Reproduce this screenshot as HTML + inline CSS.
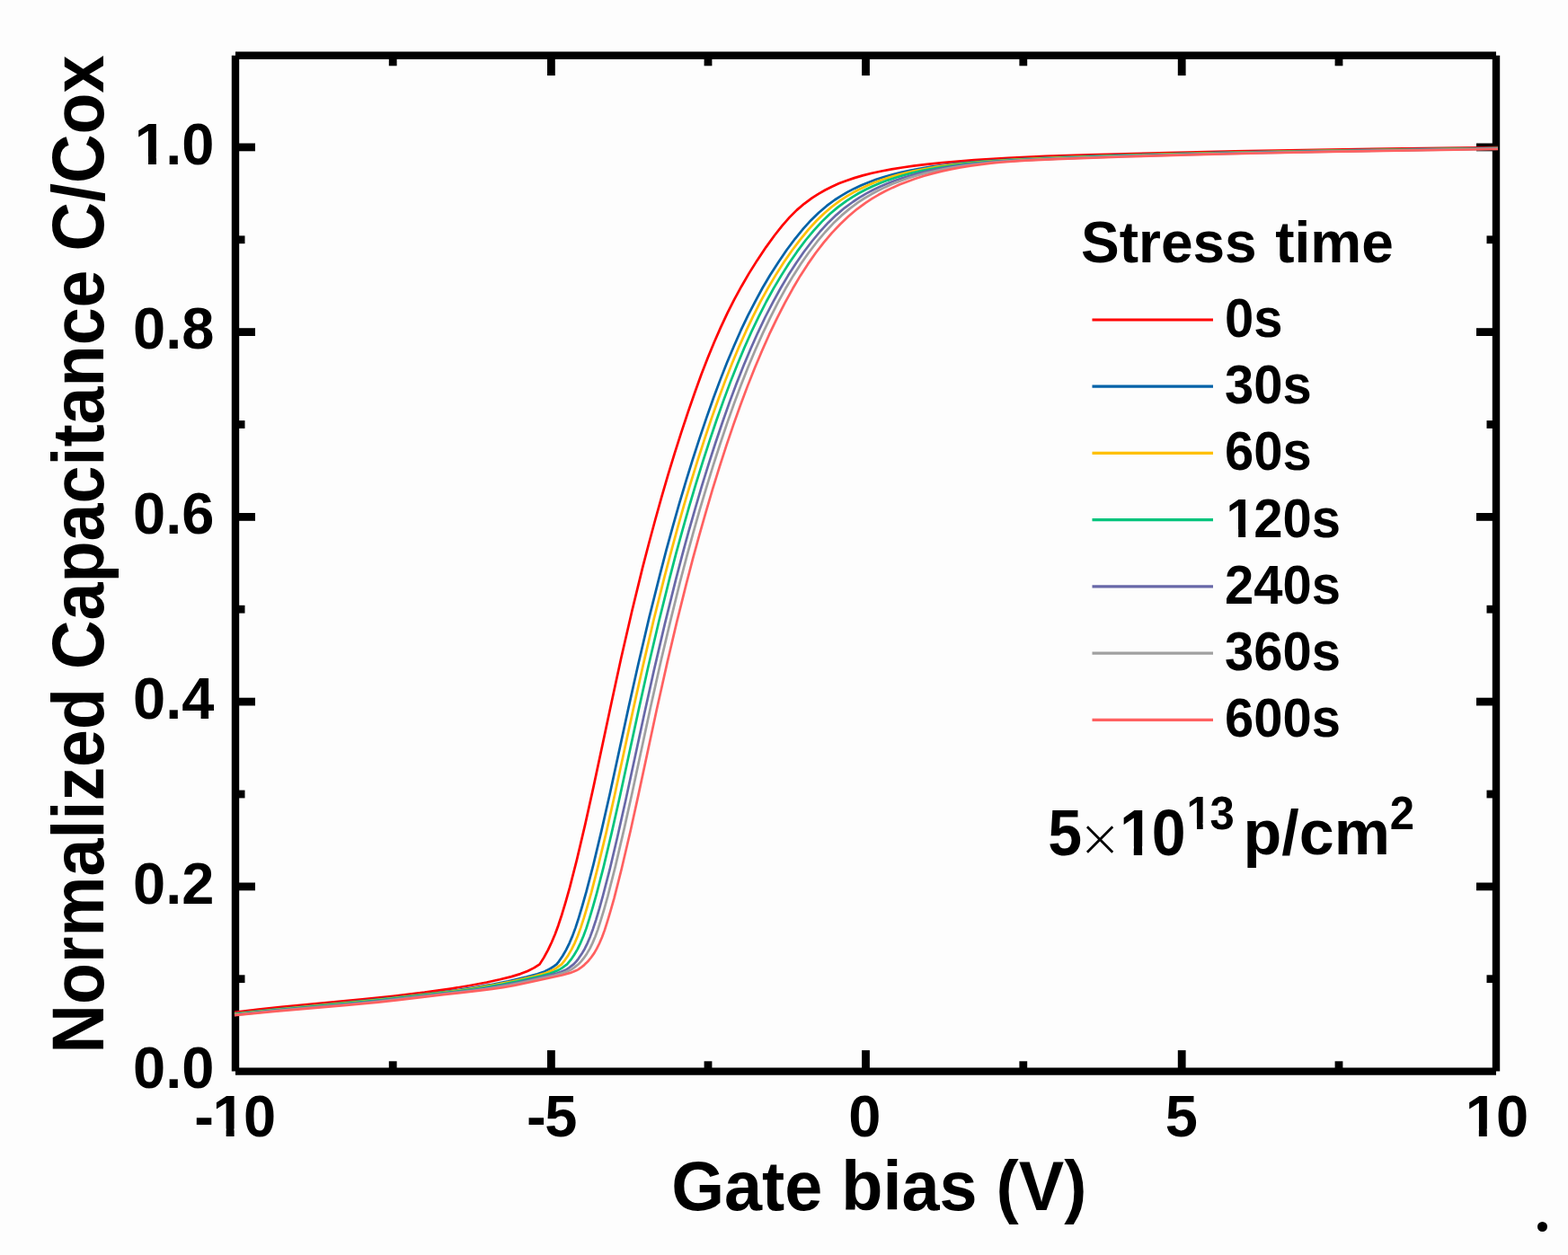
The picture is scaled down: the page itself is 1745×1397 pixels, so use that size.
<!DOCTYPE html>
<html lang="en"><head><meta charset="utf-8"><title>Normalized Capacitance vs Gate bias</title>
<style>
html,body{margin:0;padding:0;background:#fdfdfd;}
body{width:1745px;height:1397px;overflow:hidden;}
svg{display:block;}
</style></head><body>
<svg width="1745" height="1397" viewBox="0 0 1745 1397">
<rect x="0" y="0" width="1745" height="1397" fill="#fdfdfd"/>
<g stroke="#000" stroke-width="8.4" fill="none" stroke-linecap="butt">
<line x1="262.0" y1="61.8" x2="262.0" y2="1192.6"/>
<line x1="1665.0" y1="61.8" x2="1665.0" y2="1192.6"/>
<line x1="262.0" y1="61.8" x2="1665.0" y2="61.8"/>
<line x1="262.0" y1="1192.6" x2="1665.0" y2="1192.6"/>
</g>
<g stroke="#000" stroke-width="8.8" fill="none">
<line x1="613.4" y1="1192.6" x2="613.4" y2="1169.1"/>
<line x1="613.4" y1="61.8" x2="613.4" y2="84.1"/>
<line x1="963.5" y1="1192.6" x2="963.5" y2="1169.1"/>
<line x1="963.5" y1="61.8" x2="963.5" y2="84.1"/>
<line x1="1315.2" y1="1192.6" x2="1315.2" y2="1169.1"/>
<line x1="1315.2" y1="61.8" x2="1315.2" y2="84.1"/>
<line x1="437.2" y1="1192.6" x2="437.2" y2="1181.3"/>
<line x1="437.2" y1="61.8" x2="437.2" y2="73.3"/>
<line x1="788.0" y1="1192.6" x2="788.0" y2="1181.3"/>
<line x1="788.0" y1="61.8" x2="788.0" y2="73.3"/>
<line x1="1138.8" y1="1192.6" x2="1138.8" y2="1181.3"/>
<line x1="1138.8" y1="61.8" x2="1138.8" y2="73.3"/>
<line x1="1490.0" y1="1192.6" x2="1490.0" y2="1181.3"/>
<line x1="1490.0" y1="61.8" x2="1490.0" y2="73.3"/>
<line x1="262.0" y1="986.9" x2="284.0" y2="986.9"/>
<line x1="1665.0" y1="986.9" x2="1643.0" y2="986.9"/>
<line x1="262.0" y1="781.1" x2="284.0" y2="781.1"/>
<line x1="1665.0" y1="781.1" x2="1643.0" y2="781.1"/>
<line x1="262.0" y1="575.4" x2="284.0" y2="575.4"/>
<line x1="1665.0" y1="575.4" x2="1643.0" y2="575.4"/>
<line x1="262.0" y1="369.6" x2="284.0" y2="369.6"/>
<line x1="1665.0" y1="369.6" x2="1643.0" y2="369.6"/>
<line x1="262.0" y1="163.9" x2="284.0" y2="163.9"/>
<line x1="1665.0" y1="163.9" x2="1643.0" y2="163.9"/>
<line x1="262.0" y1="1089.7" x2="272.5" y2="1089.7"/>
<line x1="1665.0" y1="1089.7" x2="1654.5" y2="1089.7"/>
<line x1="262.0" y1="884.0" x2="272.5" y2="884.0"/>
<line x1="1665.0" y1="884.0" x2="1654.5" y2="884.0"/>
<line x1="262.0" y1="678.2" x2="272.5" y2="678.2"/>
<line x1="1665.0" y1="678.2" x2="1654.5" y2="678.2"/>
<line x1="262.0" y1="472.5" x2="272.5" y2="472.5"/>
<line x1="1665.0" y1="472.5" x2="1654.5" y2="472.5"/>
<line x1="262.0" y1="266.8" x2="272.5" y2="266.8"/>
<line x1="1665.0" y1="266.8" x2="1654.5" y2="266.8"/>
</g>
<g fill="none" stroke-width="2.7" stroke-linejoin="round" stroke-linecap="butt">
<path d="M261.0 1126.9 L287.7 1123.7 L313.4 1120.9 L403.3 1112.4 L437.7 1108.9 L472.5 1104.7 L503.2 1100.3 L523.1 1097.0 L541.7 1093.5 L556.4 1090.3 L569.2 1087.1 L579.1 1084.1 L587.1 1081.0 L594.3 1077.4 L600.6 1073.4 L605.3 1065.9 L609.8 1057.7 L613.9 1049.0 L617.8 1039.7 L621.3 1030.2 L625.0 1019.0 L629.5 1004.1 L634.0 988.2 L642.0 956.8 L651.3 917.4 L660.6 875.4 L680.9 780.2 L691.2 732.8 L703.3 680.2 L715.1 631.9 L722.1 605.0 L729.1 579.0 L736.1 553.8 L743.3 529.1 L750.7 504.9 L758.1 481.6 L765.8 458.4 L773.4 436.5 L780.7 416.3 L787.9 397.8 L794.9 380.7 L802.2 364.1 L809.7 348.1 L817.3 333.1 L825.2 318.7 L833.2 304.9 L842.6 289.9 L852.5 275.1 L862.0 262.0 L870.6 251.1 L878.7 241.9 L886.7 233.9 L895.0 226.8 L903.7 220.4 L910.8 215.8 L918.4 211.5 L925.9 207.7 L934.0 204.1 L942.3 201.0 L950.7 198.1 L960.0 195.4 L970.3 192.8 L981.0 190.5 L992.2 188.4 L1003.9 186.5 L1016.8 184.7 L1031.5 182.9 L1048.7 181.2 L1084.4 178.1 L1121.8 175.8 L1163.5 173.9 L1211.9 172.3 L1289.5 170.3 L1374.2 168.4 L1463.9 166.8 L1561.7 165.4 L1667.0 164.2" stroke="#ff0000"/>
<path d="M261.0 1128.2 L305.7 1123.5 L393.1 1115.2 L435.6 1110.8 L494.8 1104.0 L512.2 1101.7 L527.3 1099.4 L545.8 1096.2 L565.5 1092.2 L585.7 1087.6 L598.0 1084.3 L606.0 1081.4 L609.9 1079.5 L612.8 1078.0 L616.4 1075.7 L619.5 1073.4 L622.1 1070.1 L626.2 1064.0 L630.0 1057.3 L633.7 1049.8 L637.2 1041.6 L640.5 1032.6 L644.0 1021.8 L648.0 1008.5 L652.5 992.7 L660.4 962.3 L669.4 924.6 L678.8 883.2 L699.5 787.6 L710.1 740.2 L722.4 687.6 L734.5 639.3 L741.5 612.3 L748.8 585.9 L756.0 560.4 L763.4 535.7 L770.9 511.4 L778.6 487.7 L786.3 464.9 L793.9 443.3 L801.6 422.6 L809.2 403.3 L816.9 384.9 L824.5 367.7 L832.4 351.2 L840.6 335.3 L848.6 320.5 L857.0 306.3 L866.2 291.9 L875.3 278.5 L884.8 265.8 L893.9 254.7 L902.5 245.2 L911.2 236.7 L920.0 229.2 L929.0 222.5 L935.9 218.1 L943.0 213.9 L950.7 209.9 L958.5 206.3 L966.7 202.9 L975.0 199.8 L983.7 197.0 L993.2 194.4 L1003.2 191.9 L1013.7 189.6 L1024.7 187.5 L1036.1 185.7 L1048.7 184.0 L1062.2 182.4 L1091.5 179.6 L1123.7 177.5 L1175.4 175.1 L1227.0 173.3 L1290.3 171.5 L1368.6 169.6 L1452.6 168.0 L1667.0 164.8" stroke="#0062a8"/>
<path d="M261.0 1128.6 L304.1 1124.1 L388.5 1116.2 L430.9 1111.9 L501.1 1103.8 L518.6 1101.5 L533.9 1099.2 L551.4 1096.1 L570.7 1092.2 L594.5 1086.7 L604.9 1083.9 L608.9 1082.5 L613.0 1080.8 L616.6 1079.1 L619.4 1077.4 L625.0 1073.4 L628.5 1069.1 L632.3 1063.4 L636.1 1056.9 L639.7 1049.6 L643.0 1041.7 L646.3 1032.6 L649.8 1021.9 L653.7 1008.9 L658.0 993.9 L665.7 963.9 L674.7 926.6 L684.0 885.3 L704.6 790.1 L715.2 742.6 L727.5 690.0 L739.7 641.3 L746.8 614.3 L754.0 587.9 L761.2 562.4 L768.6 537.6 L776.2 513.1 L783.9 489.3 L791.6 466.4 L799.3 444.8 L807.0 424.1 L814.7 404.5 L822.4 386.1 L830.2 368.7 L838.2 351.9 L846.4 335.7 L854.7 320.6 L863.0 306.6 L872.1 292.3 L881.1 279.2 L890.6 266.6 L899.6 255.6 L908.4 246.0 L917.2 237.5 L925.9 230.0 L935.2 223.1 L942.1 218.7 L949.5 214.3 L956.9 210.5 L964.8 206.7 L972.9 203.3 L981.2 200.3 L990.1 197.3 L999.5 194.6 L1009.5 192.1 L1019.7 189.8 L1030.4 187.8 L1041.8 185.9 L1054.0 184.1 L1066.9 182.5 L1095.4 179.8 L1126.8 177.8 L1178.3 175.4 L1232.6 173.5 L1295.9 171.7 L1372.4 169.8 L1454.5 168.2 L1667.0 165.0" stroke="#ffc000"/>
<path d="M261.0 1129.0 L303.2 1124.6 L384.9 1117.1 L424.0 1113.2 L508.2 1103.6 L525.0 1101.4 L539.8 1099.2 L556.5 1096.2 L575.7 1092.3 L602.6 1086.2 L612.3 1083.5 L616.3 1082.1 L620.0 1080.5 L622.9 1079.1 L626.0 1077.1 L631.1 1073.4 L635.4 1068.2 L639.1 1062.8 L642.7 1056.6 L646.1 1049.6 L649.3 1042.0 L652.5 1033.4 L655.9 1022.7 L659.8 1009.7 L663.9 995.1 L671.5 965.8 L680.3 928.9 L689.6 887.8 L710.3 792.1 L720.8 744.8 L733.2 692.0 L745.3 643.4 L752.3 616.3 L759.6 589.9 L766.8 564.3 L774.3 539.2 L781.9 514.6 L789.6 490.9 L797.3 468.0 L805.0 446.4 L812.8 425.4 L820.5 405.9 L828.3 387.3 L836.2 369.5 L844.4 352.3 L852.7 336.0 L861.0 320.9 L869.5 306.6 L878.3 292.7 L887.2 279.9 L896.5 267.5 L905.6 256.6 L914.5 246.9 L923.4 238.3 L932.5 230.6 L941.7 223.8 L948.6 219.3 L955.9 215.0 L963.5 211.0 L971.4 207.2 L979.6 203.8 L988.0 200.6 L996.6 197.7 L1005.9 195.0 L1015.8 192.4 L1025.8 190.1 L1036.5 188.0 L1047.9 186.0 L1059.7 184.3 L1072.3 182.7 L1099.6 180.0 L1130.5 178.0 L1179.4 175.8 L1237.3 173.7 L1302.5 171.8 L1377.4 170.0 L1457.8 168.4 L1667.0 165.2" stroke="#00c47c"/>
<path d="M261.0 1129.5 L302.8 1125.2 L382.9 1118.0 L419.5 1114.4 L517.5 1103.3 L533.7 1101.2 L547.5 1099.1 L562.9 1096.4 L580.9 1092.7 L611.0 1085.9 L620.4 1083.3 L624.6 1081.8 L628.1 1080.3 L630.5 1079.1 L633.5 1077.1 L638.4 1073.4 L641.2 1070.4 L643.6 1067.3 L647.2 1062.1 L650.7 1056.2 L653.9 1049.6 L656.9 1042.4 L659.9 1034.2 L663.3 1023.8 L667.1 1011.2 L671.0 997.0 L678.5 968.2 L687.1 931.8 L696.3 890.7 L716.9 795.3 L727.5 747.4 L739.9 694.4 L752.0 645.6 L759.1 618.3 L766.3 591.8 L773.6 566.3 L781.0 541.2 L788.6 516.6 L796.4 492.5 L804.2 469.5 L811.8 447.9 L819.7 426.8 L827.5 407.0 L835.4 388.2 L843.4 370.3 L851.6 353.0 L860.2 336.3 L868.6 321.0 L877.1 306.6 L885.9 292.9 L894.7 280.3 L903.7 268.5 L912.8 257.5 L921.9 247.7 L930.9 239.1 L940.1 231.3 L949.5 224.5 L956.5 219.9 L963.7 215.6 L971.5 211.5 L979.4 207.7 L987.6 204.2 L996.0 201.0 L1004.8 198.0 L1014.1 195.2 L1023.9 192.6 L1033.8 190.3 L1044.5 188.1 L1055.4 186.1 L1066.8 184.4 L1078.9 182.8 L1105.0 180.2 L1134.7 178.3 L1179.3 176.3 L1243.0 174.0 L1311.9 172.0 L1385.0 170.2 L1463.6 168.6 L1667.0 165.5" stroke="#6868a8"/>
<path d="M261.0 1129.8 L303.0 1125.5 L383.3 1118.5 L419.5 1115.0 L524.5 1103.0 L539.5 1101.1 L552.7 1099.1 L566.9 1096.6 L584.0 1093.1 L616.9 1085.8 L626.5 1083.1 L630.7 1081.6 L634.2 1080.0 L636.0 1079.1 L639.2 1076.9 L643.8 1073.2 L646.8 1070.1 L649.6 1066.7 L653.2 1061.4 L656.5 1055.9 L659.5 1049.6 L662.5 1042.5 L665.4 1034.6 L668.7 1024.2 L672.5 1011.6 L676.3 998.0 L684.8 964.6 L694.9 921.4 L703.6 882.3 L724.0 787.3 L735.9 734.2 L746.5 689.6 L756.9 647.5 L764.1 620.1 L771.4 593.4 L778.6 567.9 L786.1 542.8 L793.7 518.1 L801.5 494.0 L809.2 471.1 L816.9 449.4 L824.8 428.3 L832.7 408.2 L840.7 389.2 L848.8 371.1 L857.3 353.4 L865.8 336.7 L874.2 321.3 L882.8 306.9 L891.4 293.6 L900.0 281.2 L909.2 269.2 L918.2 258.5 L927.4 248.6 L936.5 239.9 L945.8 232.1 L955.2 225.2 L962.3 220.5 L969.5 216.3 L977.0 212.3 L985.0 208.4 L993.1 204.8 L1001.9 201.4 L1010.8 198.3 L1019.9 195.5 L1029.5 192.9 L1039.7 190.5 L1049.9 188.3 L1060.8 186.3 L1072.1 184.5 L1083.7 183.0 L1096.4 181.6 L1109.4 180.4 L1138.0 178.4 L1177.9 176.7 L1246.8 174.2 L1319.9 172.1 L1392.0 170.3 L1469.4 168.8 L1667.0 165.7" stroke="#a0a0a0"/>
<path d="M261.0 1130.2 L304.9 1125.8 L385.8 1118.9 L421.1 1115.6 L443.5 1113.1 L493.4 1107.2 L533.7 1102.7 L547.7 1100.9 L559.8 1099.1 L572.5 1096.9 L587.7 1093.7 L625.5 1085.5 L634.7 1082.9 L638.4 1081.6 L641.9 1080.0 L643.6 1079.1 L646.4 1077.2 L649.3 1074.9 L652.3 1072.1 L655.1 1069.2 L657.7 1066.0 L661.2 1061.1 L664.2 1055.9 L667.1 1050.0 L670.0 1043.2 L672.9 1035.4 L675.9 1025.9 L679.7 1013.2 L683.5 999.8 L691.8 967.0 L701.8 924.2 L710.4 885.1 L730.7 790.5 L742.6 737.4 L753.2 692.4 L763.8 649.9 L771.0 622.2 L778.2 595.8 L785.6 569.8 L793.0 544.7 L800.6 520.1 L808.4 495.9 L816.3 472.6 L824.0 451.0 L831.9 429.9 L839.9 409.7 L848.0 390.5 L856.1 372.2 L864.8 354.1 L873.5 337.1 L882.2 321.3 L890.7 306.9 L899.1 293.9 L907.8 281.5 L916.6 270.1 L925.7 259.4 L935.1 249.5 L944.3 240.7 L953.7 232.8 L963.2 225.8 L970.4 221.2 L977.7 216.8 L985.2 212.8 L993.3 208.9 L1001.5 205.3 L1010.3 201.9 L1019.1 198.7 L1028.5 195.8 L1038.0 193.1 L1048.0 190.6 L1058.4 188.4 L1068.9 186.4 L1079.8 184.6 L1091.1 183.1 L1102.9 181.7 L1115.5 180.5 L1141.7 178.7 L1175.2 177.2 L1251.3 174.5 L1331.5 172.2 L1402.3 170.5 L1478.8 168.9 L1667.0 166.0" stroke="#ff6060"/>
</g>
<g font-family="'Liberation Sans', Arial, sans-serif" font-weight="bold" fill="#000">
<text transform="translate(238.40 1211.40)" font-size="65" text-anchor="end">0.0</text>
<text transform="translate(238.40 1005.66)" font-size="65" text-anchor="end">0.2</text>
<text transform="translate(238.40 799.92)" font-size="65" text-anchor="end">0.4</text>
<text transform="translate(238.40 594.18)" font-size="65" text-anchor="end">0.6</text>
<text transform="translate(238.40 388.44)" font-size="65" text-anchor="end">0.8</text>
<text transform="translate(148.04 182.70)" font-size="65" text-anchor="start"><tspan dx="1.82">1</tspan><tspan dx="-1.82">.</tspan>0</text>
<text transform="translate(216.30 1265.30)" font-size="65" text-anchor="start">-<tspan dx="-1.4">1</tspan><tspan dx="-1.82">0</tspan></text>
<text transform="translate(586.00 1265.30)" font-size="65" text-anchor="start">-<tspan dx="-1.3">5</tspan></text>
<text transform="translate(962.30 1265.30)" font-size="65" text-anchor="middle">0</text>
<text transform="translate(1314.80 1265.30)" font-size="65" text-anchor="middle">5</text>
<text transform="translate(1628.85 1265.30)" font-size="65" text-anchor="start"><tspan dx="1.82">1</tspan><tspan dx="-1.82">0</tspan></text>
<text transform="translate(978.30 1347.00) scale(0.9950 1.0250)" font-size="76" text-anchor="middle">Gate bias (V)</text>
<text transform="translate(115.20 617.00) rotate(-90) scale(0.9928 1.0650)" font-size="76" text-anchor="middle">Normalized Capacitance C/Cox</text>
<text transform="translate(1203.00 292.00) scale(1.0000 1.0100)" font-size="64" text-anchor="start">Stress <tspan dx="2.8">time</tspan></text>
<line x1="1215.5" x2="1350" y1="356.0" y2="356.0" stroke="#ff0000" stroke-width="3.2"/>
<text transform="translate(1363.00 374.90) scale(1.0000 1.0450)" font-size="58" text-anchor="start">0s</text>
<line x1="1215.5" x2="1350" y1="430.2" y2="430.2" stroke="#0062a8" stroke-width="3.2"/>
<text transform="translate(1363.00 449.12) scale(1.0000 1.0450)" font-size="58" text-anchor="start">30s</text>
<line x1="1215.5" x2="1350" y1="504.4" y2="504.4" stroke="#ffc000" stroke-width="3.2"/>
<text transform="translate(1363.00 523.34) scale(1.0000 1.0450)" font-size="58" text-anchor="start">60s</text>
<line x1="1215.5" x2="1350" y1="578.7" y2="578.7" stroke="#00c47c" stroke-width="3.2"/>
<text transform="translate(1363.00 597.56) scale(1.0000 1.0450)" font-size="58" text-anchor="start"><tspan dx="1.62">1</tspan><tspan dx="-1.62">2</tspan>0s</text>
<line x1="1215.5" x2="1350" y1="652.9" y2="652.9" stroke="#6868a8" stroke-width="3.2"/>
<text transform="translate(1363.00 671.78) scale(1.0000 1.0450)" font-size="58" text-anchor="start">240s</text>
<line x1="1215.5" x2="1350" y1="727.1" y2="727.1" stroke="#a0a0a0" stroke-width="3.2"/>
<text transform="translate(1363.00 746.00) scale(1.0000 1.0450)" font-size="58" text-anchor="start">360s</text>
<line x1="1215.5" x2="1350" y1="801.3" y2="801.3" stroke="#ff6060" stroke-width="3.2"/>
<text transform="translate(1363.00 820.22) scale(1.0000 1.0450)" font-size="58" text-anchor="start">600s</text>
<text><tspan x="1166.20" y="951.5" font-size="72.4" textLength="37.82" lengthAdjust="spacingAndGlyphs">5</tspan><tspan x="1199.4" y="953.2" font-size="58.7" font-weight="200" font-family="'DejaVu Sans Light', 'DejaVu Sans', 'Liberation Sans', sans-serif">×</tspan><tspan x="1245.90" y="951.5" font-size="72.4" textLength="37.82" lengthAdjust="spacingAndGlyphs">1</tspan><tspan x="1281.82" y="951.5" font-size="72.4" textLength="37.82" lengthAdjust="spacingAndGlyphs">0</tspan><tspan x="1320.57" y="923.4" font-size="51.5" textLength="27.25" lengthAdjust="spacingAndGlyphs">1</tspan><tspan x="1346.45" y="923.4" font-size="51.5" textLength="27.25" lengthAdjust="spacingAndGlyphs">3</tspan> <tspan x="1383.6" y="950.8" font-size="70">p/cm</tspan><tspan x="1546.80" y="923.4" font-size="51.9" textLength="27.25" lengthAdjust="spacingAndGlyphs">2</tspan></text>
</g>
<g fill="#fdfdfd">
<rect x="152.16" y="173.87" width="12.88" height="10.23"/>
<rect x="173.95" y="173.87" width="12.05" height="10.23"/>
<rect x="238.81" y="1256.47" width="12.88" height="10.23"/>
<rect x="260.61" y="1256.47" width="12.05" height="10.23"/>
<rect x="1632.96" y="1256.47" width="12.88" height="10.23"/>
<rect x="1654.76" y="1256.47" width="12.05" height="10.23"/>
<rect x="1366.48" y="589.17" width="11.68" height="9.79"/>
<rect x="1386.12" y="589.17" width="10.95" height="9.79"/>
<rect x="1248.39" y="941.91" width="13.39" height="10.99"/>
<rect x="1271.11" y="941.91" width="12.52" height="10.99"/>
<rect x="1321.86" y="915.94" width="10.15" height="8.86"/>
<rect x="1338.73" y="915.94" width="9.53" height="8.86"/>
</g>
<circle cx="1716.5" cy="1365.5" r="5.5" fill="#000"/>
</svg>
</body></html>
